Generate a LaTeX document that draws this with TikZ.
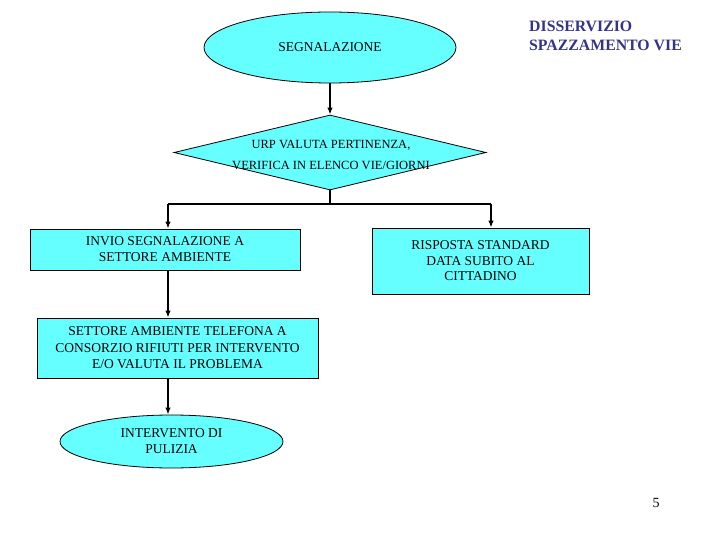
\documentclass[tikz,border=0pt]{standalone}
\usepackage{fontspec}
\setmainfont{Liberation Serif}
\usetikzlibrary{shapes.geometric,arrows.meta}
\definecolor{boxcyan}{RGB}{102,255,255}
\definecolor{titleblue}{RGB}{51,51,140}
\begin{document}
\begin{tikzpicture}[x=1pt,y=-1pt,
  base/.style={draw=black,line width=0.8pt,fill=boxcyan,inner sep=0pt,align=center,
    font=\fontsize{13.5}{16}\selectfont},
  oval/.style={base,ellipse},
  procbox/.style={base,rectangle},
  arr/.style={line width=1.6pt,-{Latex[length=7pt,width=5.5pt]}},
  conn/.style={line width=1.1pt}]
\useasboundingbox (0,0) rectangle (720,540);
\node[oval,minimum width=252pt,minimum height=71pt] (seg) at (330,47.5) {SEGNALAZIONE};
\node[base,diamond,minimum width=312pt,minimum height=75pt] (urp) at (330,152.5) {};
\node[font=\fontsize{12.5}{21}\selectfont,align=center,inner sep=0pt] (urpt) at (331,154.5)
  {URP VALUTA PERTINENZA,\\VERIFICA IN ELENCO VIE/GIORNI};
\node[procbox,minimum width=270pt,minimum height=41pt] (invio) at (165,249.5)
  {INVIO SEGNALAZIONE A\\SETTORE AMBIENTE};
\node[procbox,minimum width=217pt,minimum height=66pt,font=\fontsize{13.5}{15.5}\selectfont] (risp) at (480.5,261)
  {RISPOSTA STANDARD\\DATA SUBITO AL\\CITTADINO};
\node[procbox,minimum width=281pt,minimum height=60pt,font=\fontsize{13.5}{16.5}\selectfont] (sett) at (177.5,348)
  {SETTORE AMBIENTE TELEFONA A\\CONSORZIO RIFIUTI PER INTERVENTO\\E/O VALUTA IL PROBLEMA};
\node[oval,minimum width=223pt,minimum height=53pt] (interv) at (171.5,441.5)
  {INTERVENTO DI\\PULIZIA};
\node[text=titleblue,font=\bfseries\fontsize{15.8}{19.5}\selectfont,align=left,inner sep=0pt,anchor=west] (title) at (529,36)
  {DISSERVIZIO\\SPAZZAMENTO VIE};
\node[font=\fontsize{14}{16}\selectfont,inner sep=0pt] (pnum) at (656,503) {5};
\coordinate (jl) at (168,204);
\coordinate (jr) at (491,204);
\draw[arr] (seg.south) -- (urp.north);
\draw[conn] (urp.south) -- (urp.south |- jl);
\draw[conn] (jl) -- (jr);
\draw[arr] (jl) -- (jl |- invio.north);
\draw[arr] (jr) -- (jr |- risp.north);
\draw[arr] (jl |- invio.south) -- (jl |- sett.north);
\draw[arr] (jl |- sett.south) -- (jl |- interv.north);
\end{tikzpicture}
\end{document}
